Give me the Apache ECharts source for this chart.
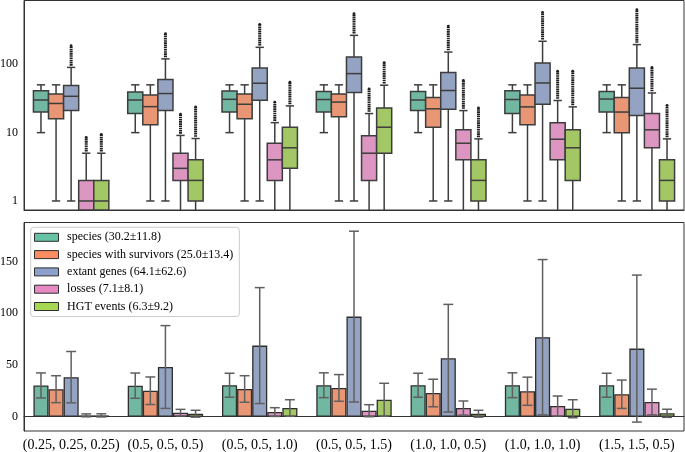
<!DOCTYPE html>
<html><head><meta charset="utf-8">
<script src="https://cdn.jsdelivr.net/npm/echarts@6/dist/echarts.min.js"></script>
<style>html,body{margin:0;padding:0;background:#fff}#c{width:685px;height:452px}</style>
</head><body><div id="c"></div>
<script>
const groups = ['(0.25, 0.25, 0.25)', '(0.5, 0.5, 0.5)', '(0.5, 0.5, 1.0)', '(0.5, 0.5, 1.5)', '(1.0, 1.0, 0.5)', '(1.0, 1.0, 1.0)', '(1.5, 1.5, 0.5)'];
const seriesNames = ['species (30.2±11.8)', 'species with survivors (25.0±13.4)', 'extant genes (64.1±62.6)', 'losses (7.1±8.1)', 'HGT events (6.3±9.2)'];

// Box stats per group: [lowWhisker, q1, median, q3, highWhisker, maxOutlier]
const speciesBox = [[10,20,30,41,50,null],[10,19,30,39.4,50,null],[10,20,30.7,40.8,50,null],[10,20,30.5,40,50,null],[10,21,30,40,50,null],[10,19,30.5,41,50,null],[10,20,31,40,50,null]];
const survivorsBox = [[1,16,26.7,36.8,50,null],[1,13,24,35.6,50,null],[1,16,26,36.8,50,null],[1,17,28,36.8,50,null],[1,12,22.3,32.6,50,null],[1,13,23.8,35.6,50,null],[1,10,20,32.6,50,null]];
const genesBox = [[1,21,34,49,90,187],[1,21,37.3,60,120,280],[1,29.8,52.8,88,177,384],[1,38.6,73,128,265,550],[1,22,41.3,75.6,151,362],[1,26,53.3,104.5,217,574],[1,17.8,44.6,88,194,629]];
const lossesBox = [[0,0,1,2,5,8.5],[0,2,3,5,9.1,18.6],[0,2,4,7,14,28],[0,2,5,9,19,43.6],[0,4,7,11,21,58],[0,4,8,14,29.5,79],[0,6,11,19,38,90]];
const hgtBox = [[0,0,1,2,5,9.4],[0,1,2,4,8.2,23.8],[0,3,6,12,24.6,54.6],[0,5,12,23,49.4,106],[0,1,2,4,8.1,23],[0,2,6,11,23.8,79],[0,1,2,4,8.1,25]];

// Bottom panel: means and standard deviations
const speciesMean = [30.2, 30.0, 30.4, 30.4, 30.4, 30.4, 30.4];
const speciesSd = [12.1, 12.2, 11.6, 12.0, 11.6, 12.0, 11.6];
const survivorsMean = [26.6, 25.1, 26.8, 27.8, 22.9, 24.6, 21.7];
const survivorsSd = [13.0, 13.3, 12.8, 12.9, 13.3, 13.6, 13.7];
const genesMean = [38.2, 48.0, 68.7, 96.7, 56.5, 76.8, 65.8];
const genesSd = [24.8, 40.0, 56.0, 82.5, 52.0, 75.0, 71.0];
const lossesMean = [1.3, 3.9, 4.5, 5.8, 8.4, 10.3, 14.2];
const lossesSd = [1.4, 3.2, 4.2, 5.8, 6.8, 9.7, 12.4];
const hgtMean = [1.3, 2.9, 8.4, 16.4, 2.9, 7.7, 3.3];
const hgtSd = [1.5, 3.3, 8.0, 15.9, 3.3, 8.7, 3.9];

const logTicks = [1, 10, 100];
const logMinorTicks = [0.8, 0.9, 2, 3, 4, 5, 6, 7, 8, 9, 20, 30, 40, 50, 60, 70, 80, 90, 200, 300, 400, 500, 600, 700, 800];
const linTicks = [0, 50, 100, 150];

const boxes = [speciesBox, survivorsBox, genesBox, lossesBox, hgtBox];
const means = [speciesMean, survivorsMean, genesMean, lossesMean, hgtMean];
const sds = [speciesSd, survivorsSd, genesSd, lossesSd, hgtSd];

const boxColors = ['#71b7a1', '#e99675', '#95a3c3', '#dc96c1', '#a2c764'];
const legendColors = ['#66c2a5', '#fc8d62', '#8da0cb', '#e78ac3', '#a6d854'];
const FONT = 'Liberation Serif';
const LINE = '#3d3d3d';
const AX = '#333';
const yMinTop = 0.738, yMaxTop = 857;

function boxRender(k) {
  return function (params, api) {
    const gi = api.value(0);
    const x0 = api.coord([0, 1])[0], x1 = api.coord([1, 1])[0];
    const band = x1 - x0;
    const cx = api.coord([gi, 1])[0] + (k - 2) * band * 0.16;
    const w = band * 0.16;
    const capW = w * 0.55;
    const Y = v => api.coord([gi, v > yMinTop ? v : yMinTop])[1];
    const low = api.value(1), q1 = api.value(2), med = api.value(3), q3 = api.value(4), high = api.value(5), out = api.value(6);
    const st = { stroke: LINE, lineWidth: 1.5 };
    const ch = [];
    ch.push({ type: 'line', shape: { x1: cx, y1: Y(q1), x2: cx, y2: Y(low) }, style: st });
    ch.push({ type: 'line', shape: { x1: cx, y1: Y(q3), x2: cx, y2: Y(high) }, style: st });
    if (low > yMinTop) ch.push({ type: 'line', shape: { x1: cx - capW / 2, y1: Y(low), x2: cx + capW / 2, y2: Y(low) }, style: st });
    ch.push({ type: 'line', shape: { x1: cx - capW / 2, y1: Y(high), x2: cx + capW / 2, y2: Y(high) }, style: st });
    const yt = Y(q3), yb = Y(q1);
    ch.push({ type: 'rect', shape: { x: cx - w / 2, y: yt, width: w, height: yb - yt }, style: { fill: boxColors[k], stroke: LINE, lineWidth: 1.5 } });
    ch.push({ type: 'line', shape: { x1: cx - w / 2, y1: Y(med), x2: cx + w / 2, y2: Y(med) }, style: st });
    if (!isNaN(out) && out > 0) {
      ch.push({ type: 'line', shape: { x1: cx, y1: Y(high * 1.06), x2: cx, y2: Y(out) }, style: { stroke: '#1e1e1e', lineWidth: 3, lineDash: [1.6, 0.6] } });
      ch.push({ type: 'circle', shape: { cx: cx, cy: Y(out), r: 1.4 }, style: { fill: '#1e1e1e' } });
    }
    return { type: 'group', children: ch };
  };
}

function errRender(k) {
  return function (params, api) {
    const gi = api.value(0), m = api.value(1), s = api.value(2);
    const x0 = api.coord([0, 0])[0], x1 = api.coord([1, 0])[0];
    const band = x1 - x0;
    const cx = api.coord([gi, 0])[0] + (k - 2) * band * 0.16;
    const capW = band * 0.105;
    const yt = api.coord([gi, m + s])[1], yb = api.coord([gi, m - s])[1];
    const st = { stroke: '#5f5f5f', lineWidth: 1.5 };
    return { type: 'group', children: [
      { type: 'line', shape: { x1: cx, y1: yt, x2: cx, y2: yb }, style: st },
      { type: 'line', shape: { x1: cx - capW / 2, y1: yt, x2: cx + capW / 2, y2: yt }, style: st },
      { type: 'line', shape: { x1: cx - capW / 2, y1: yb, x2: cx + capW / 2, y2: yb }, style: st }
    ] };
  };
}

const series = [];
for (let k = 0; k < 5; k++) {
  series.push({
    type: 'custom', xAxisIndex: 0, yAxisIndex: 0, renderItem: boxRender(k), silent: true,
    encode: { x: 0, y: [1, 2, 3, 4, 5] },
    data: boxes[k].map((b, i) => [i, b[0], b[1], b[2], b[3], b[4], b[5] == null ? NaN : b[5]])
  });
}
for (let k = 0; k < 5; k++) {
  series.push({
    type: 'bar', name: seriesNames[k], xAxisIndex: 1, yAxisIndex: 2,
    barGap: '0%', barCategoryGap: '20%',
    itemStyle: { color: boxColors[k], borderColor: '#2e2e2e', borderWidth: 1.3 },
    data: means[k]
  });
}
for (let k = 0; k < 5; k++) {
  series.push({
    type: 'custom', xAxisIndex: 1, yAxisIndex: 2, renderItem: errRender(k), silent: true, z: 5,
    encode: { x: 0, y: 1 },
    data: means[k].map((m, i) => [i, m, sds[k][i]])
  });
}

const chart = echarts.init(document.getElementById('c'), null, { renderer: 'canvas' });
chart.setOption({
  animation: false,
  backgroundColor: '#fff',
  textStyle: { fontFamily: FONT },
  grid: [
    { left: 24, top: 0.5, width: 660, height: 209.5, show: true, borderColor: AX, borderWidth: 1, outerBoundsMode: 'none' },
    { left: 24, top: 222.5, width: 660, height: 208.5, show: true, borderColor: AX, borderWidth: 1, outerBoundsMode: 'none' }
  ],
  legend: {
    orient: 'vertical', left: 30.7, top: 227.3,
    padding: [4, 6, 4, 3.3], itemGap: 5.3, itemWidth: 24, itemHeight: 8, icon: 'rect',
    backgroundColor: 'rgba(255,255,255,0.85)', borderColor: '#cccccc', borderWidth: 1, borderRadius: 3,
    itemStyle: { borderColor: '#2e2e2e', borderWidth: 1 },
    textStyle: { fontFamily: FONT, fontSize: 12, color: '#000', lineHeight: 12, padding: [0, 0, 0, 3.6] },
    data: seriesNames.map((n, k) => ({ name: n, itemStyle: { color: legendColors[k] } }))
  },
  xAxis: [
    { type: 'category', gridIndex: 0, data: groups,
      axisLine: { lineStyle: { color: AX } },
      axisTick: { alignWithLabel: true, length: 3.5, lineStyle: { color: AX } },
      axisLabel: { show: false }, splitLine: { show: false } },
    { type: 'category', gridIndex: 1, data: groups,
      axisLine: { lineStyle: { color: AX } },
      axisTick: { alignWithLabel: true, length: 3.5, lineStyle: { color: AX } },
      axisLabel: { interval: 0, fontFamily: FONT, fontSize: 14, color: '#000', margin: 7 },
      splitLine: { show: false } }
  ],
  yAxis: [
    { type: 'log', logBase: 10, gridIndex: 0, min: yMinTop, max: yMaxTop, position: 'left',
      axisLine: { show: true, lineStyle: { color: AX } },
      axisTick: { customValues: logTicks, length: 3.5, lineStyle: { color: AX } },
      axisLabel: { customValues: logTicks, formatter: v => String(Math.round(v)), fontFamily: FONT, fontSize: 12, color: '#000', margin: 6 },
      splitLine: { show: false } },
    { type: 'log', logBase: 10, gridIndex: 0, min: yMinTop, max: yMaxTop, position: 'left', offset: 0,
      axisLine: { show: false },
      axisTick: { customValues: logMinorTicks, length: 2, lineStyle: { color: AX } },
      axisLabel: { show: false }, splitLine: { show: false } },
    { type: 'value', gridIndex: 1, min: -13.8, max: 187.6, position: 'left',
      axisLine: { show: true, lineStyle: { color: AX } },
      axisTick: { customValues: linTicks, length: 3.5, lineStyle: { color: AX } },
      axisLabel: { customValues: linTicks, fontFamily: FONT, fontSize: 12, color: '#000', margin: 6 },
      splitLine: { show: false } }
  ],
  series: series
});
</script></body></html>
